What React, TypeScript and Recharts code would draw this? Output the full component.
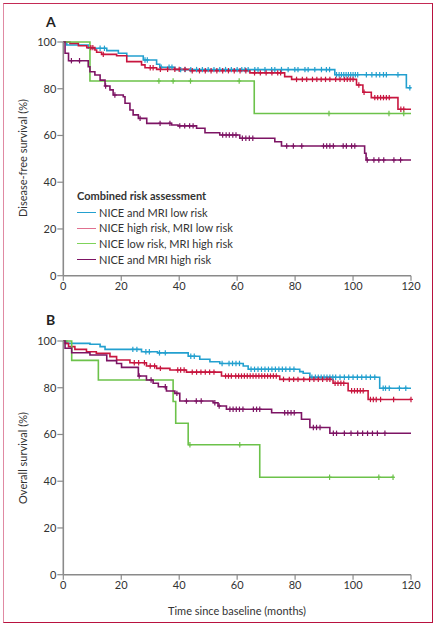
import React from 'react';
import { LineChart, Line, XAxis, YAxis, Legend } from 'recharts';

type Step = [number, number];

const monthTicks = [0, 20, 40, 60, 80, 100, 120];
const pctTicks = [0, 20, 40, 60, 80, 100];

const groupNames = [
  'NICE and MRI low risk',
  'NICE high risk, MRI low risk',
  'NICE low risk, MRI high risk',
  'NICE and MRI high risk',
];
const lineColors = ['#23a0cf', '#c8163f', '#6cc24a', '#7d1464'];
const legendColors = ['#23a0cf', '#e0708f', '#7fd35a', '#7d1464'];

// ---------- Panel A: disease-free survival ----------
const dfsLowLowSteps: Step[] = [
  [0, 100], [1.2, 98.7], [8.6, 97.3], [15, 96.3], [19, 95.2], [21.9, 94.0], [27.6, 92.3],
  [32.2, 90.5], [33.3, 89.2], [38.5, 88.2], [93.7, 86.0], [118.4, 80.4], [120, 80.4],
];
const dfsLowLowCensored = [
  12.7, 14.2, 28.2, 29.0, 33.8, 36.5, 37.5, 40.5, 42, 44, 46, 48, 50, 52, 54, 56, 58, 60,
  61.6, 62.7, 63.8, 66.1, 67.2, 69.6, 71.9, 73, 75.3, 77.6, 79.9, 81, 83.4, 84.5, 86.8,
  89.1, 90.8, 91.9, 94.3, 95.2, 96, 96.8, 97.6, 98.4, 99.2, 100, 100.8, 101.6, 104.6,
  106.5, 108, 109.2, 110.5, 111.5, 115.5, 119.6,
];
const dfsHighLowSteps: Step[] = [
  [0, 100], [2.3, 99.4], [5.2, 98.4], [8.1, 97.6], [10.9, 96.6], [11.5, 95.6], [13.2, 94.7],
  [18.4, 94.1], [21.9, 91.6], [27, 90.2], [28.2, 89.0], [32.2, 88.3], [43.7, 87.7],
  [64.4, 86.8], [76.4, 85.2], [78.8, 84.0], [101.2, 81.6], [103.4, 78.5], [106.3, 76.2],
  [115.5, 71.2], [120, 71.2],
];
const dfsHighLowCensored = [
  9.5, 10.2, 13.8, 30, 31, 33.5, 36, 38.5, 40, 42, 44.5, 47, 49, 51, 53, 55, 57, 59, 61, 63,
  66, 68, 70, 72, 74, 75, 80.5, 82.5, 84, 86, 87.5, 89, 90.5, 92, 94, 95.5, 97, 98, 99, 100,
  102, 103.8, 107.5, 108.5, 109.5, 110.5, 111.5, 112.5, 116.5, 117.5,
];
const dfsLowHighSteps: Step[] = [[0, 100], [9.2, 83.3], [65.9, 69.4], [120, 69.4]];
const dfsLowHighCensored = [33, 37.9, 43.9, 60.7, 91.7, 112.4, 117.5];
const dfsHighHighSteps: Step[] = [
  [0, 100], [0.6, 95.2], [1.8, 92.0], [8.6, 89.4], [9.2, 87.3], [10.9, 85.9], [12.7, 83.7],
  [14.4, 81.2], [16.1, 79.5], [17.2, 77.3], [20.7, 76.6], [21.3, 73.8], [23, 70.9],
  [24.1, 68.8], [25.9, 67.3], [28.8, 65.2], [37.4, 64.5], [39.6, 64.1], [46, 63.1],
  [48.9, 61.2], [54, 60.2], [60.9, 58.8], [73, 57.3], [75.3, 55.5], [104, 52.4],
  [104.5, 49.5], [120, 49.5],
];
const dfsHighHighCensored = [
  2.8, 5.6, 14.6, 17.8, 26.5, 33.4, 36.8, 40.2, 41.9, 43.6, 44.8, 55, 56.2, 57.3, 58.5,
  59.6, 61.8, 63, 64.2, 65.4, 77.1, 79.4, 82.3, 89.8, 90.9, 92, 93.2, 96.6, 97.7, 99.5,
  100.6, 104.9, 107.2, 108.9, 110.6, 114.1, 116.4,
];

// ---------- Panel B: overall survival ----------
const osLowLowSteps: Step[] = [
  [0, 100], [1.2, 99.0], [9.2, 98.6], [12.7, 97.6], [14.4, 96.4], [27, 95.4], [32.5, 94.9],
  [43.1, 93.5], [47.1, 92.2], [50.6, 91.1], [54, 90.4], [62.1, 89.3], [63.8, 87.9],
  [81.6, 86.9], [82.8, 86.2], [85.1, 84.5], [109.2, 79.8], [120, 79.8],
];
const osLowLowCensored = [
  24, 25.4, 28.5, 29.7, 33.2, 35.2, 44, 45.2, 54.8, 57.2, 58.4, 59.6, 60.8, 64.8, 66, 67.2,
  68.4, 69.6, 70.8, 72, 73.2, 74.4, 75.6, 76.8, 78.2, 79.6, 85.8, 87, 88, 89, 90, 91, 92,
  93, 94, 95.5, 97, 98.5, 100, 101.5, 103, 104.5, 106, 107.5, 110.4, 111.2, 112.5, 116,
  118.2,
];
const osHighLowSteps: Step[] = [
  [0, 100], [0.6, 99.0], [1.8, 97.6], [4, 96.4], [8, 95.4], [11.4, 94.7], [16.1, 93.3],
  [18.4, 91.9], [23, 90.7], [28.7, 89.3], [32.2, 88.3], [36.8, 87.6], [42.5, 86.7],
  [54.6, 85.0], [74.7, 83.6], [93.1, 81.9], [98.3, 78.7], [105.2, 75.0], [120, 75.0],
];
const osHighLowCensored = [
  24.5, 26, 28, 30, 31.5, 33.5, 39.5, 40.5, 41.7, 44.5, 46, 47.5, 49, 50.5, 52, 56, 57, 58,
  59.5, 60.5, 61.5, 62.5, 63.5, 64.5, 65.5, 66.5, 67.5, 68.5, 69.5, 70.5, 71.5, 72.5, 73.5,
  76, 78, 79.5, 81, 83, 85, 86.5, 88, 89.5, 91, 92, 93.8, 94.8, 95.8, 96.8, 99.5, 100.5,
  101.5, 102.5, 103.5, 106, 107, 108, 109.5, 114, 120,
];
const osLowHighSteps: Step[] = [
  [0, 100], [2.9, 91.7], [12.1, 83.3], [37.9, 74.1], [38.8, 64.8], [43.1, 55.6],
  [67.8, 41.7], [114, 41.7],
];
const osLowHighCensored = [43.7, 60.9, 91.9, 108.9, 113.8];
const osHighHighSteps: Step[] = [
  [0, 100], [0.6, 96.9], [2.9, 95.0], [9.2, 94.0], [15, 91.6], [18.4, 90.4], [20.1, 88.7],
  [25.9, 85.0], [28.7, 83.3], [31, 81.9], [32.8, 80.4], [35.6, 78.6], [38.5, 77.6],
  [40.2, 74.3], [51.7, 73.6], [53.4, 72.2], [56.3, 70.8], [71.9, 69.3], [82.2, 66.5],
  [85.1, 63.0], [92, 60.5], [120, 60.5],
];
const osHighHighCensored = [
  26.2, 30.3, 35.2, 39.2, 42.5, 45.9, 47.6, 52.3, 53.8, 57.5, 58.6, 59.7, 60.8, 62, 65.6,
  66.7, 67.8, 76.4, 77.5, 78.6, 79.7, 86.3, 87.4, 88.6, 93.2, 94.3, 97, 99.3, 101.6, 103.3,
  105, 106.7, 108.4, 111,
];

type Pt = { t: number; s: number; c: boolean };

function buildSeries(steps: Step[], censored: number[]): Pt[] {
  const valueAt = (t: number) => {
    let v = steps[0][1];
    for (const [st, sv] of steps) if (st <= t) v = sv;
    return v;
  };
  const pts: Pt[] = steps.map(([t, s]) => ({ t, s, c: false }));
  censored.forEach((t) => pts.push({ t, s: valueAt(t), c: true }));
  pts.sort((a, b) => a.t - b.t || (a.c ? 1 : 0) - (b.c ? 1 : 0));
  return pts;
}

const dfsSeries = [
  buildSeries(dfsLowLowSteps, dfsLowLowCensored),
  buildSeries(dfsHighLowSteps, dfsHighLowCensored),
  buildSeries(dfsLowHighSteps, dfsLowHighCensored),
  buildSeries(dfsHighHighSteps, dfsHighHighCensored),
];
const osSeries = [
  buildSeries(osLowLowSteps, osLowLowCensored),
  buildSeries(osHighLowSteps, osHighLowCensored),
  buildSeries(osLowHighSteps, osLowHighCensored),
  buildSeries(osHighHighSteps, osHighHighCensored),
];

const FONT = 'Lato, "Open Sans", sans-serif';
const AXIS_COLOR = '#8a8a8a';
const TEXT_COLOR = '#333';

const CensorDot = (props: any) => {
  const { cx, cy, payload, stroke, index } = props;
  if (!payload || !payload.c || cx == null || cy == null) return <g key={`e-${index}`} />;
  return (
    <g key={`c-${index}`}>
      <line x1={cx} x2={cx} y1={cy - 2.7} y2={cy + 2.7} stroke={stroke} strokeWidth={1.2} />
      <line x1={cx - 2} x2={cx + 2} y1={cy} y2={cy} stroke={stroke} strokeWidth={1.2} />
    </g>
  );
};

const LegendBox = () => (
  <div style={{ fontFamily: FONT, fontSize: 11, color: TEXT_COLOR, lineHeight: '15.7px' }}>
    <div style={{ fontWeight: 700, marginBottom: 1 }}>Combined risk assessment</div>
    {groupNames.map((n, i) => (
      <div key={n} style={{ display: 'flex', alignItems: 'center' }}>
        <span
          style={{ display: 'inline-block', width: 19, height: 0, borderTop: `1.4px solid ${legendColors[i]}`, marginRight: 3 }}
        />
        <span>{n}</span>
      </div>
    ))}
  </div>
);

function Panel({ series, height, top, showLegend }: { series: Pt[][]; height: number; top: number; showLegend: boolean }) {
  const bottom = height - top - 233.7 - 30;
  return (
    <LineChart width={436} height={height} margin={{ top, right: 25, left: 0, bottom }}>
      <XAxis
        dataKey="t"
        type="number"
        domain={[0, 120]}
        ticks={monthTicks}
        allowDuplicatedCategory={false}
        height={30}
        axisLine={{ stroke: AXIS_COLOR, strokeWidth: 1.5 }}
        tickLine={{ stroke: AXIS_COLOR, strokeWidth: 1.2 }}
        tickSize={5}
        tickMargin={1}
        tick={{ fill: TEXT_COLOR, fontSize: 11, fontFamily: FONT }}
      />
      <YAxis
        type="number"
        domain={[0, 100]}
        ticks={pctTicks}
        width={63.3}
        axisLine={{ stroke: AXIS_COLOR, strokeWidth: 1.6 }}
        tickLine={{ stroke: AXIS_COLOR, strokeWidth: 1.2 }}
        tickSize={6}
        tickMargin={1}
        tick={{ fill: TEXT_COLOR, fontSize: 11, fontFamily: FONT }}
      />
      {series.map((d, i) => (
        <Line
          key={groupNames[i]}
          data={d}
          dataKey="s"
          name={groupNames[i]}
          type="stepAfter"
          stroke={lineColors[i]}
          strokeWidth={1.6}
          dot={<CensorDot />}
          activeDot={false}
          isAnimationActive={false}
        />
      ))}
      {showLegend && (
        <Legend
          layout="vertical"
          align="center"
          verticalAlign="middle"
          content={() => <LegendBox />}
          wrapperStyle={{ left: 77, top: 188, width: 200, height: 80 }}
        />
      )}
    </LineChart>
  );
}

const textBase: React.CSSProperties = {
  position: 'absolute',
  fontFamily: FONT,
  color: TEXT_COLOR,
  whiteSpace: 'nowrap',
  lineHeight: 1,
};

export default function App() {
  return (
    <div style={{ position: 'absolute', left: 0, top: 0, width: 436, height: 627, background: '#fff', overflow: 'hidden' }}>
      <div
        style={{
          position: 'absolute',
          left: 3,
          top: 3,
          width: 429.5,
          height: 619.5,
          boxSizing: 'border-box',
          borderTop: '1.5px solid #c42a55',
          borderRight: '1.5px solid #b8123f',
          borderBottom: '1.5px solid #b8123f',
          borderLeft: '1.5px solid #e08aa3',
        }}
      />
      <div style={{ position: 'absolute', left: 0, top: 0 }}>
        <Panel series={dfsSeries} height={310} top={42} showLegend={true} />
      </div>
      <div style={{ position: 'absolute', left: 0, top: 300 }}>
        <Panel series={osSeries} height={327} top={41} showLegend={false} />
      </div>
      <div style={{ ...textBase, left: 46, top: 15, fontSize: 14, fontWeight: 700, color: '#222' }}>A</div>
      <div style={{ ...textBase, left: 46, top: 313, fontSize: 14, fontWeight: 700, color: '#222' }}>B</div>
      <div style={{ ...textBase, left: 22, top: 158, fontSize: 11, transform: 'translate(-50%, -50%) rotate(-90deg)' }}>
        Disease-free survival (%)
      </div>
      <div style={{ ...textBase, left: 22, top: 458, fontSize: 11, transform: 'translate(-50%, -50%) rotate(-90deg)' }}>
        Overall survival (%)
      </div>
      <div style={{ ...textBase, left: 237, top: 610, fontSize: 11, transform: 'translate(-50%, -50%)' }}>
        Time since baseline (months)
      </div>
    </div>
  );
}
